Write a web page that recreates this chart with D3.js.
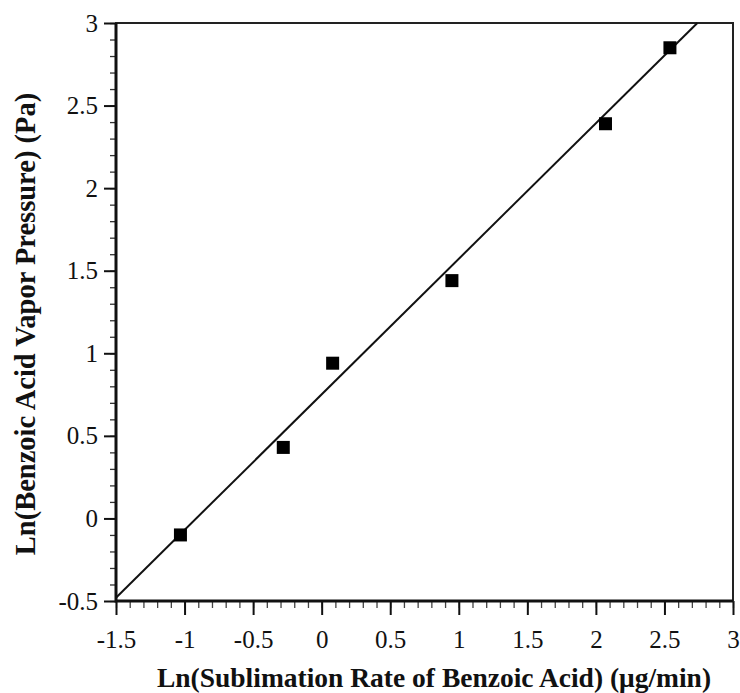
<!DOCTYPE html>
<html>
<head>
<meta charset="utf-8">
<script src="https://cdn.jsdelivr.net/npm/d3@7"></script>
<style>
  body { margin: 0; background: #fff; }
  svg text { font-family: 'Liberation Serif', 'Times New Roman', serif; fill: #111; }
</style>
</head>
<body>
<div id="chart"></div>
<script>
const margin = { top: 23, right: 7, bottom: 92, left: 116 };
const width = 740 - margin.left - margin.right;
const height = 693 - margin.top - margin.bottom;

// measured points
const sublimationRate = [-1.03, -0.28, 0.08, 0.95, 2.07, 2.54];
const vaporPressure = [-0.1, 0.43, 0.94, 1.44, 2.39, 2.85];
// fitted line end points
const fitX = [-1.5, 2.74];
const fitY = [-0.48, 3.0];

const xTicks = [-1.5, -1, -0.5, 0, 0.5, 1, 1.5, 2, 2.5, 3];
const yTicks = [-0.5, 0, 0.5, 1, 1.5, 2, 2.5, 3];

const svg = d3.select('#chart')
  .append('svg')
  .attr('width', 740)
  .attr('height', 693)
  .append('g')
  .attr('transform', `translate(${margin.left},${margin.top})`);

const x = d3.scaleLinear().domain([-1.5, 3]).range([0, width]);
const y = d3.scaleLinear().domain([-0.5, 3]).range([height, 0]);

// minor ticks every 0.1
const xMinor = d3.range(-15, 31).map((d) => d / 10);
const yMinor = d3.range(-5, 31).map((d) => d / 10);

svg.append('g')
  .attr('transform', `translate(0,${height})`)
  .call(d3.axisBottom(x).tickValues(xMinor).tickSize(7).tickFormat(''))
  .call((g) => g.select('.domain').remove())
  .selectAll('line').attr('stroke', '#444').attr('stroke-width', 1.3);

svg.append('g')
  .call(d3.axisLeft(y).tickValues(yMinor).tickSize(6).tickFormat(''))
  .call((g) => g.select('.domain').remove())
  .selectAll('line').attr('stroke', '#333').attr('stroke-width', 1.3);

const fmt = (d) => String(d); // plain hyphen minus like the original

// X axis
const xAxis = svg.append('g')
  .attr('transform', `translate(0,${height})`)
  .call(d3.axisBottom(x).tickValues(xTicks).tickSize(14).tickPadding(15).tickFormat(fmt));
xAxis.select('.domain').remove();
xAxis.selectAll('line').attr('stroke', '#111').attr('stroke-width', 2);
xAxis.selectAll('text')
  .attr('font-family', 'Liberation Serif, serif')
  .attr('font-size', 25)
  .style('fill', '#111');

// Y axis
const yAxis = svg.append('g')
  .call(d3.axisLeft(y).tickValues(yTicks).tickSize(12).tickPadding(6).tickFormat(fmt));
yAxis.select('.domain').remove();
yAxis.selectAll('line').attr('stroke', '#111').attr('stroke-width', 2);
yAxis.selectAll('text')
  .attr('font-family', 'Liberation Serif, serif')
  .attr('font-size', 25)
  .style('fill', '#111');

// frame
svg.append('rect')
  .attr('width', width)
  .attr('height', height)
  .attr('fill', 'none')
  .attr('stroke', '#222')
  .attr('stroke-width', 2);
svg.append('path')
  .attr('d', `M0,0V${height}H${width}`)
  .attr('fill', 'none')
  .attr('stroke', '#111')
  .attr('stroke-width', 3);

// fit line
svg.append('line')
  .attr('x1', x(fitX[0])).attr('y1', y(fitY[0]))
  .attr('x2', x(fitX[1])).attr('y2', y(fitY[1]))
  .attr('stroke', '#111')
  .attr('stroke-width', 2);

// squares
const size = 13;
svg.selectAll('rect.pt')
  .data(sublimationRate)
  .enter().append('rect')
  .attr('class', 'pt')
  .attr('x', (d) => x(d) - size / 2)
  .attr('y', (d, i) => y(vaporPressure[i]) - size / 2)
  .attr('width', size)
  .attr('height', size)
  .attr('fill', '#000');

// axis titles
svg.append('text')
  .attr('x', 434 - margin.left)
  .attr('y', 687 - margin.top)
  .attr('text-anchor', 'middle')
  .style('font-size', '27.5px')
  .style('font-weight', 'bold')
  .text('Ln(Sublimation Rate of Benzoic Acid) (\u03bcg/min)');

svg.append('text')
  .attr('transform', `translate(${35 - margin.left},${324 - margin.top}) rotate(-90)`)
  .attr('text-anchor', 'middle')
  .style('font-size', '28.5px')
  .style('font-weight', 'bold')
  .text('Ln(Benzoic Acid Vapor Pressure) (Pa)');
</script>
</body>
</html>
